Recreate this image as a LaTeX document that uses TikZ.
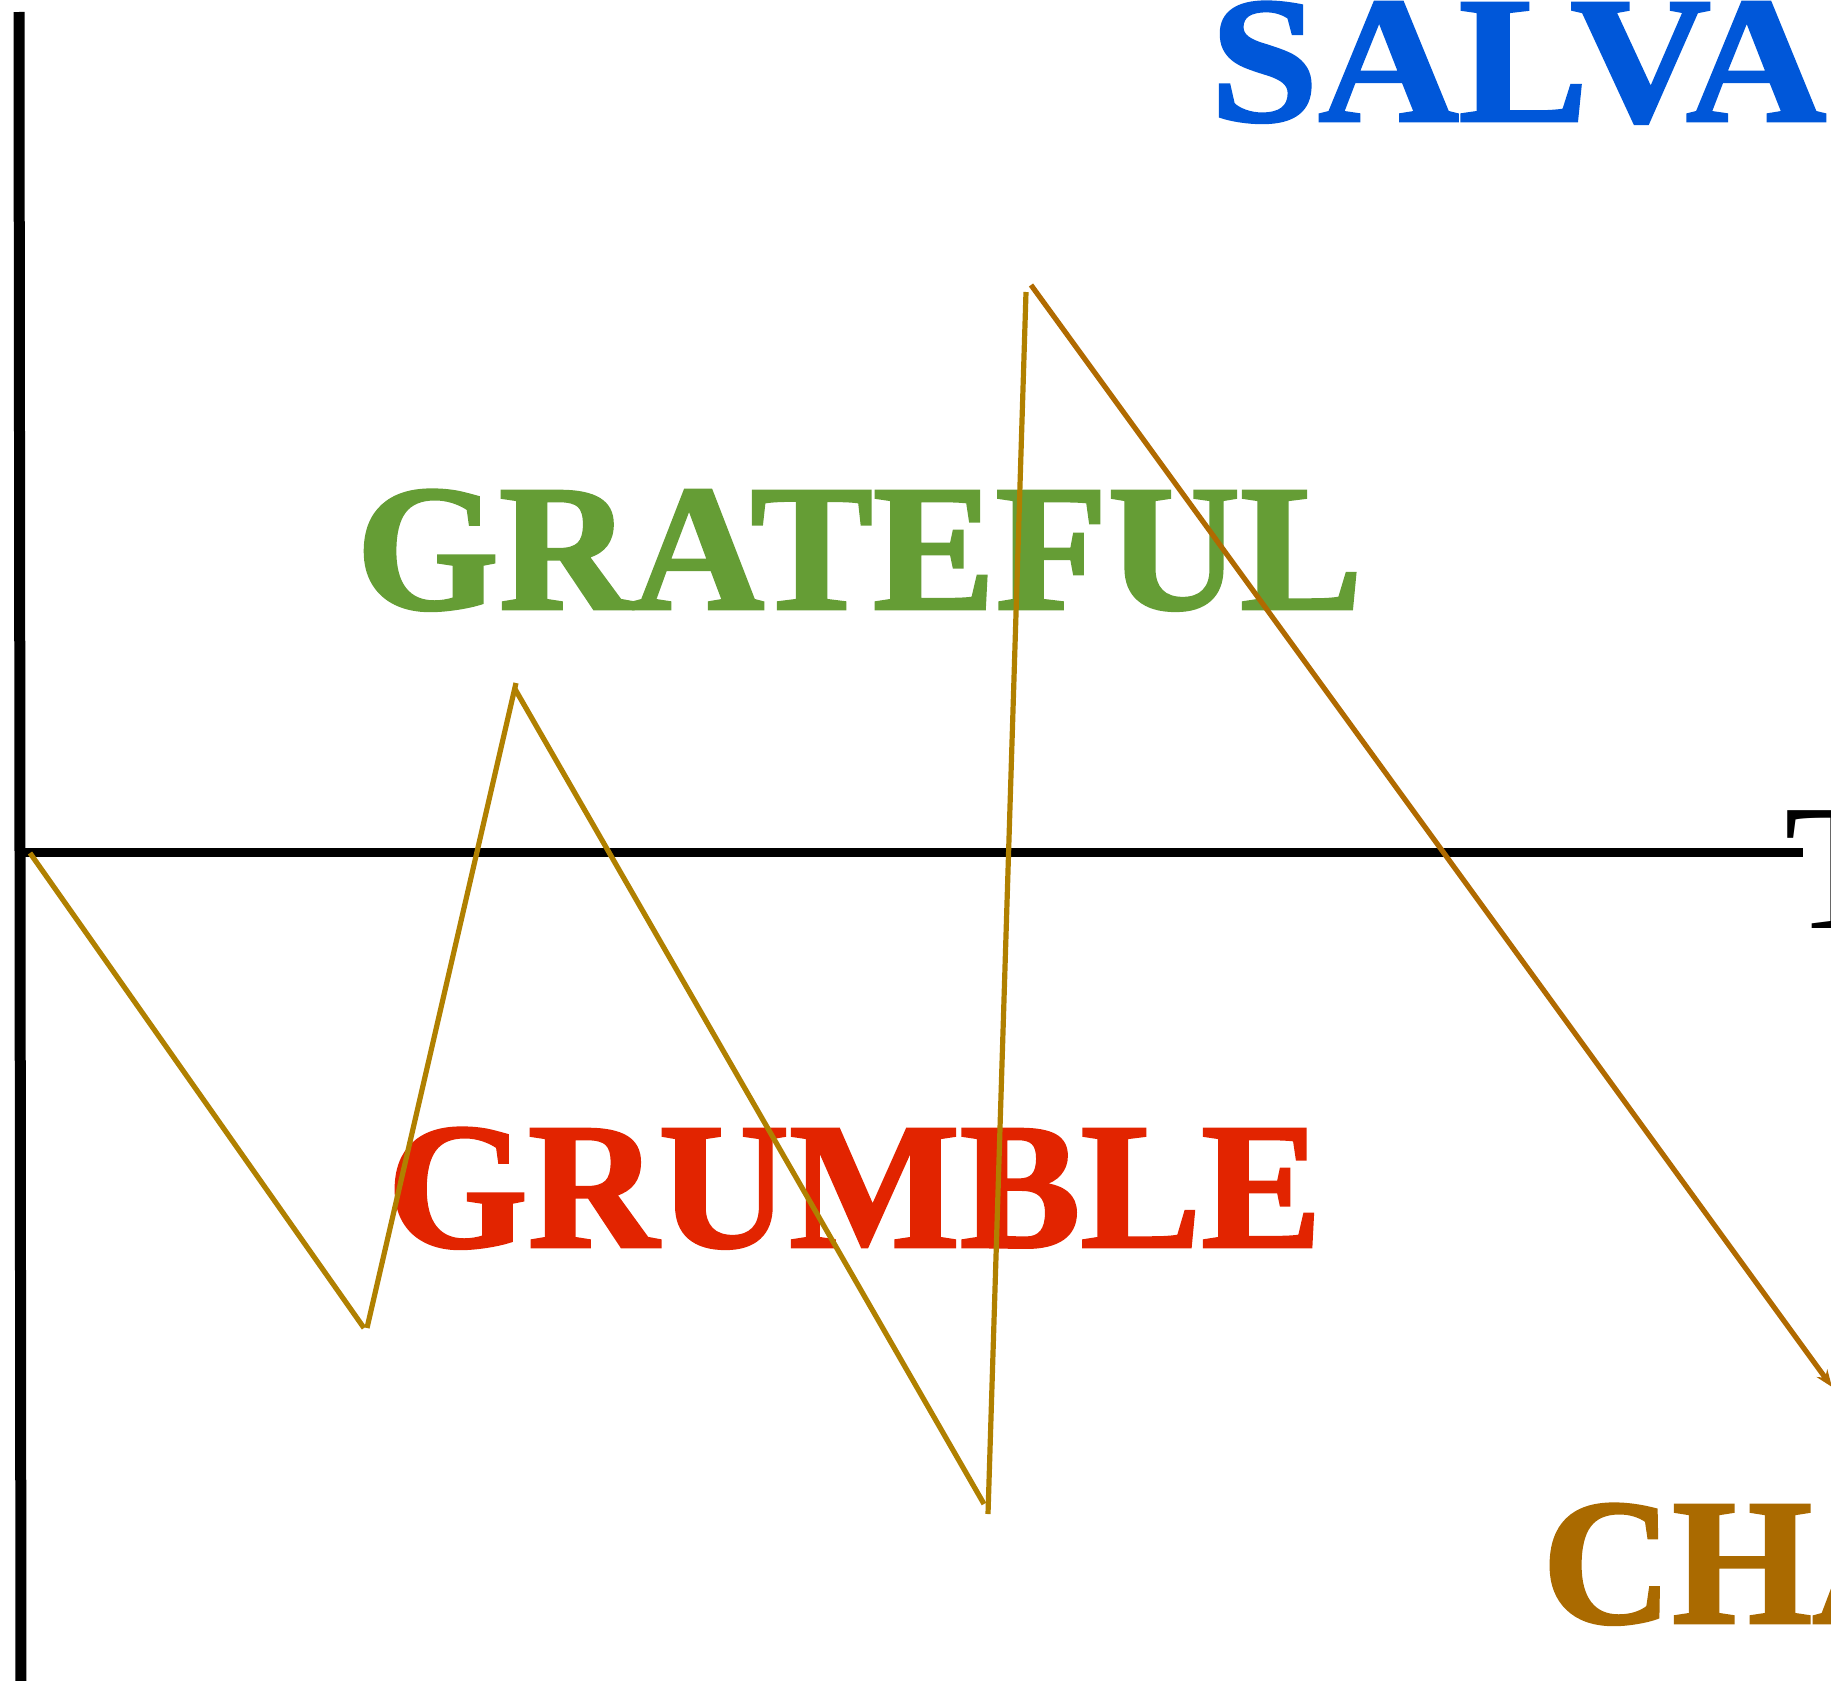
\documentclass[tikz,border=0pt]{standalone}
\usepackage{graphicx}
\usepackage{fontspec}
\setmainfont{Liberation Serif}[BoldFont={Liberation Serif Bold}]
\newfontfamily\heavyserif{Liberation Serif Bold}[FakeBold=1.6]
\usetikzlibrary{arrows.meta}
\definecolor{salvablue}{RGB}{0,87,217}
\definecolor{gratgreen}{RGB}{101,157,53}
\definecolor{grumred}{RGB}{226,36,0}
\definecolor{chabrown}{RGB}{170,106,0}
\definecolor{zzgold}{RGB}{176,128,0}
\definecolor{zzorange}{RGB}{176,106,0}
\tikzset{
  bigword/.style={anchor=base west, inner sep=0pt, font=\fontsize{180}{180}\heavyserif},
  axislabel/.style={anchor=base west, inner sep=0pt, font=\fontsize{180}{180}\selectfont},
  axisline/.style={line width=11pt, black},
  zz/.style={line width=5.2pt, zzgold},
  zzlast/.style={line width=5.2pt, zzorange, -{Stealth[length=17pt,width=13pt]}}
}
\begin{document}
\begin{tikzpicture}[x=1pt,y=-1pt]
\useasboundingbox (0,0) rectangle (1831,1681);
% words
\node[bigword, text=salvablue] (salva) at (1210,121) {\scalebox{1.08}[1]{SALVA}};
\node[bigword, text=gratgreen] (grateful) at (356,609) {\scalebox{1.02}[1]{GRATEFUL}};
\node[bigword, text=grumred] (grumble) at (387,1247) {\scalebox{1.005}[1]{GRUMBLE}};
\node[bigword, text=chabrown] (cha) at (1542,1623) {CHA};
\node[axislabel, text=black] (tlabel) at (1784,928) {T};
% axes
\coordinate (vtop) at (19,12);
\coordinate (vbot) at (21,1690);
\coordinate (hstart) at (16,852.5);
\coordinate (hend) at (1803,852.5);
\draw[axisline] (vtop) -- (vbot);
\draw[axisline, line width=9.5pt] (hstart) -- (hend);
% zigzag points
\coordinate (p1a) at (30,853);
\coordinate (p1b) at (364,1328);
\coordinate (p2a) at (367,1328);
\coordinate (p2b) at (516,683);
\coordinate (p3a) at (515,689);
\coordinate (p3b) at (984,1504);
\coordinate (p4a) at (988,1514);
\coordinate (p4b) at (1026,292);
\coordinate (p5a) at (1031,285);
\coordinate (p5b) at (1832,1387);
\draw[zz] (p1a) -- (p1b);
\draw[zz] (p2a) -- (p2b);
\draw[zz] (p3a) -- (p3b);
\draw[zz] (p4a) -- (p4b);
\draw[zzlast] (p5a) -- (p5b);
\end{tikzpicture}
\end{document}
